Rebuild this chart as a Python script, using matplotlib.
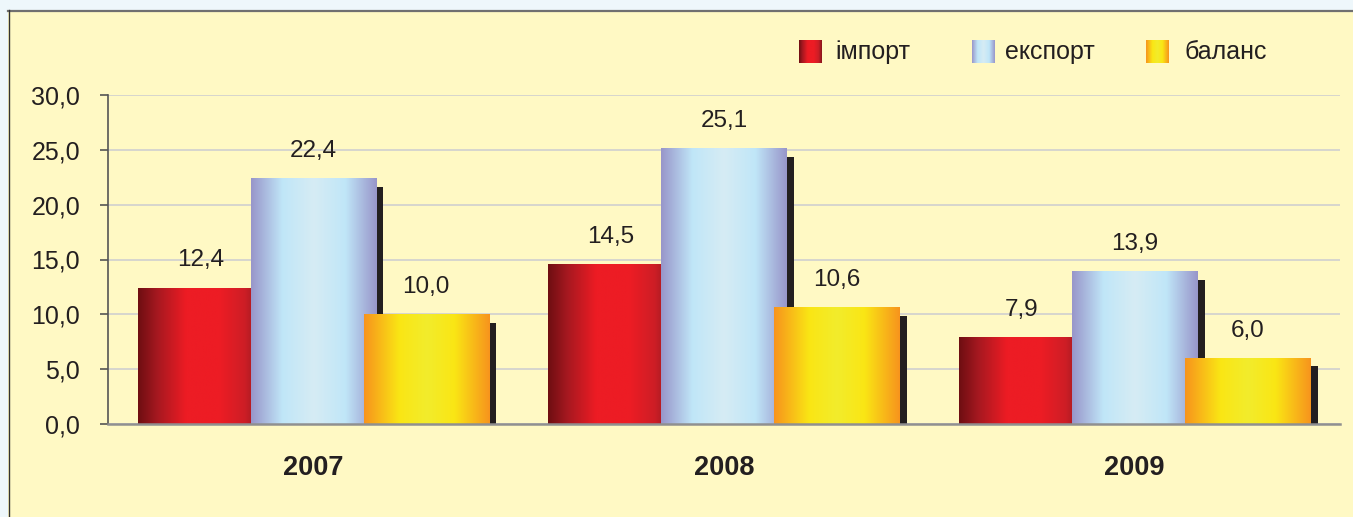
import numpy as np
import matplotlib
matplotlib.use("Agg")
import matplotlib.pyplot as plt
from matplotlib import font_manager
from matplotlib.patches import Rectangle
from matplotlib.ticker import FuncFormatter

years = ["2007", "2008", "2009"]
series_names = ["імпорт", "експорт", "баланс"]
imports = [12.4, 14.5, 7.9]
exports = [22.4, 25.1, 13.9]
balance = [10.0, 10.6, 6.0]

# gradient stops (position, rgb) across each bar
red_stops = [(0.0, (110, 14, 18)), (0.15, (165, 24, 32)), (0.38, (237, 28, 36)),
             (0.65, (237, 28, 36)), (0.85, (205, 30, 38)), (1.0, (135, 22, 28))]
blue_stops = [(0.0, (152, 150, 202)), (0.25, (192, 230, 248)), (0.5, (214, 236, 244)),
              (0.75, (192, 230, 248)), (1.0, (152, 150, 202))]
yellow_stops = [(0.0, (247, 148, 29)), (0.28, (250, 230, 20)), (0.5, (242, 236, 44)),
                (0.72, (250, 230, 20)), (1.0, (247, 148, 29))]

sans = "Liberation Sans"
names = {f.name for f in font_manager.fontManager.ttflist}
narrow = "Liberation Sans Narrow" if "Liberation Sans Narrow" in names else sans


def gradient(stops, n=200):
    pos = [s[0] for s in stops]
    t = np.linspace(0, 1, n)
    cols = np.array([s[1] for s in stops], dtype=float) / 255.0
    rgb = np.stack([np.interp(t, pos, cols[:, i]) for i in range(3)], axis=-1)
    return rgb[np.newaxis, :, :]


W, H = 1353, 517
fig = plt.figure(figsize=(W / 100, H / 100), dpi=100)
fig.patch.set_facecolor("#eef7fb")

# cream panel drawn on a background axes
bg = fig.add_axes([0, 0, 1, 1], zorder=-10)
bg.set_xlim(0, W)
bg.set_ylim(H, 0)
bg.axis("off")
bg.add_patch(Rectangle((8, 10), W, H, facecolor="#fff9c4", edgecolor="none"))
bg.plot([8, W], [10.5, 10.5], color="#707070", lw=1.6)
bg.plot([8.5, 8.5], [10, H], color="#333333", lw=1.0)

ax = fig.add_axes([108 / W, 1 - 424 / H, (1340 - 108) / W, (424 - 95) / H])
ax.set_facecolor("none")

width = 0.305
offsets = [-0.275, 0.0, 0.275]
sh_dx, sh_dy = 0.018, 0.75
all_series = [imports, exports, balance]
all_stops = [red_stops, blue_stops, yellow_stops]

z = 2
for vals, stops, off in zip(all_series, all_stops, offsets):
    grad = gradient(stops)
    for i, v in enumerate(vals):
        x0 = i + 0.5 + off - width / 2
        ax.add_patch(Rectangle((x0 + sh_dx, 0), width, v - sh_dy, facecolor="#231f20",
                               edgecolor="none", zorder=z))
        ax.imshow(grad, extent=[x0, x0 + width, 0, v], aspect="auto", zorder=z + 1,
                  interpolation="bilinear")
        ax.annotate(f"{v:.1f}".replace(".", ","), (i + 0.5 + off, v), xytext=(0, 12),
                    textcoords="offset points", ha="center", va="bottom",
                    fontsize=17.5, family=sans, color="#231f20", zorder=20)
    z += 2

ax.set_xlim(0, 3)
ax.set_ylim(0, 30)
ax.set_aspect("auto")

ax.set_yticks(np.arange(0, 31, 5))
ax.yaxis.set_major_formatter(FuncFormatter(lambda v, p: f"{v:.1f}".replace(".", ",")))
ax.yaxis.grid(True, color="#cfcfcf", lw=1.2, zorder=1)
ax.set_axisbelow(True)
ax.tick_params(axis="y", length=6, width=1.2, color="#555555", pad=14,
               labelsize=18, labelcolor="#231f20")
for lab in ax.get_yticklabels():
    lab.set_family(sans)

ax.set_xticks([i + 0.5 for i in range(len(years))])
ax.set_xticklabels(years, fontsize=19.5, fontweight="bold", family=sans, color="#231f20")
ax.tick_params(axis="x", length=0, pad=22)

for s in ["top", "right"]:
    ax.spines[s].set_visible(False)
ax.spines["left"].set_color("#555555")
ax.spines["left"].set_linewidth(1.2)
ax.spines["bottom"].set_color("#909090")
ax.spines["bottom"].set_linewidth(1.8)
ax.spines["bottom"].set_zorder(15)

# legend
sw_x = [799, 972, 1146]
tx_x = [835, 1005, 1185]
for name, stops, sx, tx in zip(series_names, all_stops, sw_x, tx_x):
    lax = fig.add_axes([sx / W, 1 - 63 / H, 23 / W, 23 / H])
    lax.imshow(gradient(stops), aspect="auto", extent=[0, 1, 0, 1])
    lax.axis("off")
    fig.text(tx / W, 1 - 52 / H, name, fontsize=18, family=narrow, color="#231f20",
             ha="left", va="center")

fig.savefig("out.png", dpi=100, facecolor=fig.get_facecolor())
